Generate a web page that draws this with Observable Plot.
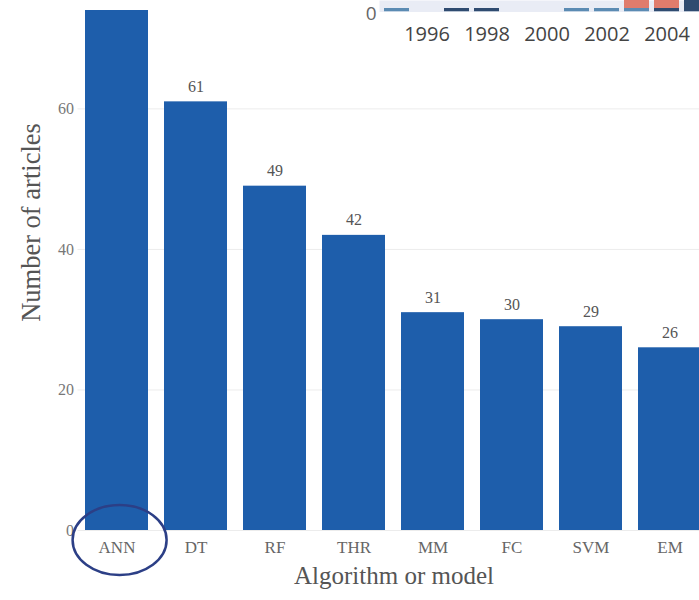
<!DOCTYPE html>
<html>
<head>
<meta charset="utf-8">
<script src="https://cdn.jsdelivr.net/npm/d3@7"></script>
<script src="https://cdn.jsdelivr.net/npm/@observablehq/plot@0.6"></script>
<style>
  html, body { margin: 0; padding: 0; background: #fff; }
  #wrap { position: relative; width: 699px; height: 600px; overflow: hidden; background: #fff; }
  #main, #inset { position: absolute; top: 0; }
  #main { left: 0; width: 710px; }
  #inset { left: 340px; width: 375px; }
  #wrap svg { max-width: none !important; overflow: hidden; }
</style>
</head>
<body>
<div id="wrap">
  <div id="main"></div>
  <div id="inset"></div>
</div>
<script>
// Articles per algorithm or model
const algorithms = ["ANN", "DT", "RF", "THR", "MM", "FC", "SVM", "EM"];
const articleCounts = [88, 61, 49, 42, 31, 30, 29, 26];
const countTicks = [0, 20, 40, 60];

// Articles per year, stacked by group (small panel, top right)
const years = [1995, 1996, 1997, 1998, 1999, 2000, 2001, 2002, 2003, 2004, 2005];
const yearTicks = [1996, 1998, 2000, 2002, 2004];
const groupNames = ["Group A", "Group B", "Group C"];
const groupColors = ["#5b8bb3", "#2f4b70", "#e07c6c"];
const groupA = [1, 0, 0, 0, 0, 0, 1, 1, 1, 0, 0];
const groupB = [0, 0, 1, 1, 0, 0, 0, 0, 0, 1, 6];
const groupC = [0, 0, 0, 0, 0, 0, 0, 0, 5, 5, 0];

const bars = algorithms.map((name, i) => ({name, count: articleCounts[i]}));

const serif = "Liberation Serif, Times New Roman, serif";
const W = 710, H = 600, mL = 77.5, mR = 0.5, mT = 10, mB = 70;
const yMax = 74;

// Ring drawn around the first category label
const ring = (index, scales, values, dims) => {
  const x0 = scales.x(algorithms[0]);
  const step = scales.x(algorithms[1]) - x0;
  const cx = x0 + step * 0.4 + 3;
  const cy = dims.height - dims.marginBottom + 10;
  const el = document.createElementNS("http://www.w3.org/2000/svg", "ellipse");
  el.setAttribute("cx", cx);
  el.setAttribute("cy", cy);
  el.setAttribute("rx", 47);
  el.setAttribute("ry", 35);
  el.setAttribute("fill", "none");
  el.setAttribute("stroke", "#2c3f86");
  el.setAttribute("stroke-width", 2.5);
  return el;
};

const mainChart = Plot.plot({
  width: W, height: H,
  marginLeft: mL, marginRight: mR, marginTop: mT, marginBottom: mB,
  style: {fontFamily: serif, fontSize: "16px", color: "#666", background: "transparent", maxWidth: "none"},
  x: {domain: algorithms, range: [mL, W - mR], paddingInner: 0.2, paddingOuter: 0.1, label: null},
  y: {domain: [0, yMax], label: null},
  marks: [
    Plot.gridY(countTicks, {stroke: "#ececec", strokeOpacity: 1}),
    Plot.barY(bars, {x: "name", y: "count", fill: "#1e5eab", clip: true}),
    Plot.text(bars, {filter: d => d.count < yMax - 3, x: "name", y: "count", text: d => String(d.count), dy: -15,
      fill: "#555", fontSize: 16}),
    Plot.axisX({tickSize: 0, tickPadding: 10, fontSize: 17, fill: "#666", label: null}),
    Plot.axisY({ticks: countTicks, tickSize: 0, tickPadding: 4, fontSize: 16, fill: "#777", label: null}),
    Plot.text(["Number of articles"], {frameAnchor: "left", textAnchor: "middle", rotate: -90, dx: -46, dy: -48,
      fontSize: 26.5, fill: "#555"}),
    Plot.text(["Algorithm or model"], {frameAnchor: "bottom", dy: 53, fontSize: 25, fill: "#555"}),
    ring
  ]
});
document.getElementById("main").appendChild(mainChart);

const yearRows = [];
[groupA, groupB, groupC].forEach((arr, g) => {
  years.forEach((yr, i) => {
    if (arr[i] > 0) yearRows.push({year: yr, group: groupNames[g], n: arr[i]});
  });
});

const iW = 375, iH = 50, iL = 39, iB = 38.5;
const insetChart = Plot.plot({
  width: iW, height: iH,
  marginLeft: iL, marginRight: 0, marginTop: 0, marginBottom: iB,
  style: {fontFamily: "Open Sans, DejaVu Sans, sans-serif", fontSize: "20px", color: "#444", background: "transparent", maxWidth: "none"},
  x: {type: "band", domain: years, range: [iL, iL + years.length * 30.5], paddingInner: 0.18, paddingOuter: 0.09, label: null},
  y: {domain: [0, (iH - iB) / 3.5], label: null},
  color: {domain: groupNames, range: groupColors},
  marks: [
    Plot.frame({fill: "#e9ecf5", stroke: null}),
    Plot.barY(yearRows, {x: "year", y: "n", fill: "group", order: groupNames, clip: true}),
    Plot.axisX({ticks: yearTicks, tickFormat: d => String(d), tickSize: 0, tickPadding: 15, fontSize: 20, fill: "#444", label: null}),
    Plot.axisY({ticks: [0], tickFormat: d => String(d), tickSize: 0, tickPadding: 3, fontSize: 19, fill: "#666", label: null, dy: 2})
  ]
});
document.getElementById("inset").appendChild(insetChart);
</script>
</body>
</html>
